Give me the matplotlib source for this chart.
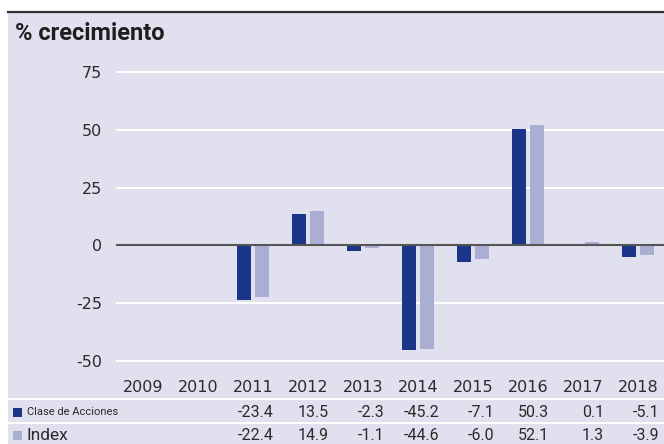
import numpy as np
import matplotlib.pyplot as plt

years = ["2009", "2010", "2011", "2012", "2013", "2014", "2015", "2016", "2017", "2018"]
clase = [np.nan, np.nan, -23.4, 13.5, -2.3, -45.2, -7.1, 50.3, 0.1, -5.1]
index = [np.nan, np.nan, -22.4, 14.9, -1.1, -44.6, -6.0, 52.1, 1.3, -3.9]
yticks = [-50, -25, 0, 25, 50, 75]

dark = "#1b3589"
light = "#aaaed2"
bg = "#e0e0ee"
txt = "#2b2b2b"

W, H = 664, 444
fig = plt.figure(figsize=(W / 100, H / 100), dpi=100)

# background axes in pixel coordinates, for panel, title and table
bga = fig.add_axes([0, 0, 1, 1], zorder=0)
bga.set_xlim(0, W)
bga.set_ylim(H, 0)
bga.axis("off")
bga.add_patch(plt.Rectangle((8, 12), W - 8, H - 12, facecolor=bg, edgecolor="none"))
bga.plot([8, W], [12, 12], color="#333333", lw=1.6)
bga.text(15, 33, "% crecimiento", fontsize=17, fontweight="bold", family="Roboto",
         color="#1e1e1e", va="center", ha="left")

for yp in [399, 423]:
    bga.plot([8, W], [yp, yp], color="white", lw=1.5)

row1, row2 = 412, 435
bga.add_patch(plt.Rectangle((13, row1 - 4.5), 9, 9, facecolor=dark, edgecolor="none"))
bga.add_patch(plt.Rectangle((13, row2 - 4.5), 9, 9, facecolor=light, edgecolor="none"))
bga.text(27, row1, "Clase de Acciones", fontsize=8, family="Roboto", color=txt, va="center")
bga.text(26, row2, "Index", fontsize=12.5, family="Roboto", color=txt, va="center")

ax = fig.add_axes([116 / W, 1 - 370 / H, 1 - 116 / W, 320 / H], zorder=1)
ax.patch.set_visible(False)
x = np.arange(len(years))
w = 0.255
ax.bar(x - 0.164, clase, w, color=dark, zorder=3)
ax.bar(x + 0.164, index, w, color=light, zorder=3)
for t in yticks:
    if t != 0:
        ax.axhline(t, color="white", lw=1.5, zorder=1)
ax.axhline(0, color="#555555", lw=1.5, zorder=4)
ax.set_xlim(-0.49, 9.47)
ax.set_ylim(-53.7, 84.3)
ax.set_yticks(yticks)
ax.set_yticklabels([str(t) for t in yticks], fontsize=11.5, color=txt, family="DejaVu Sans")
ax.tick_params(axis="y", length=0, pad=10)
ax.set_xticks(x)
ax.set_xticklabels(years, fontsize=11.5, color=txt, family="DejaVu Sans")
ax.tick_params(axis="x", length=0, pad=7)
for s in ax.spines.values():
    s.set_visible(False)

# table values, right edge lined up with the year labels
for i in range(len(years)):
    xr = 143 + i * 55 + 21
    if not np.isnan(clase[i]):
        bga.text(xr, row1, "%.1f" % clase[i], fontsize=11.5, family="Roboto",
                 color=txt, ha="right", va="center")
        bga.text(xr, row2, "%.1f" % index[i], fontsize=11.5, family="Roboto",
                 color=txt, ha="right", va="center")

fig.savefig("out.png", dpi=100)
